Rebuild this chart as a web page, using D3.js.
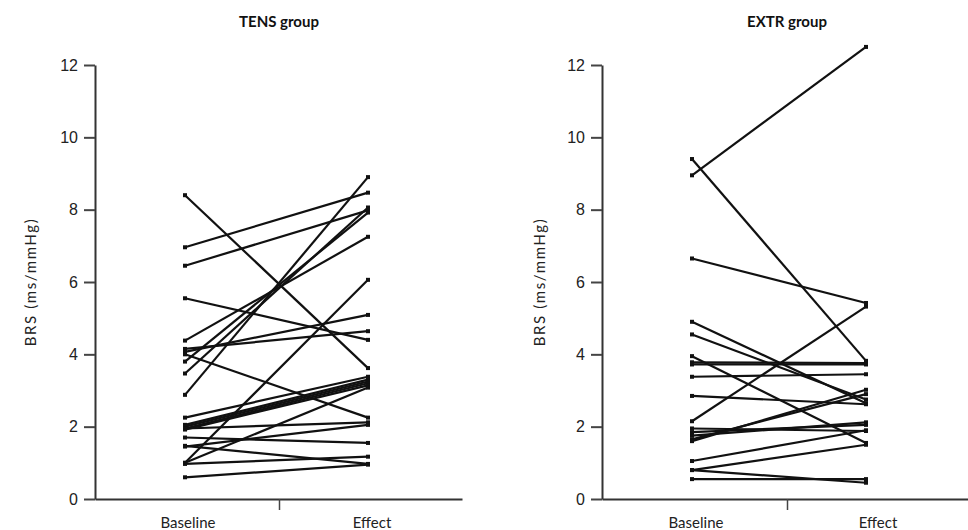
<!DOCTYPE html>
<html>
<head>
<meta charset="utf-8">
<script src="https://cdn.jsdelivr.net/npm/d3@7"></script>
<style>
  body { margin: 0; background: #fff; }
  svg { display: block; font-family: Lato, "Open Sans", sans-serif; }
</style>
</head>
<body>
<svg id="chart" width="968" height="530"></svg>
<script>
// data
var conditions = ["Baseline", "Effect"];
var yTicks = [0, 2, 4, 6, 8, 10, 12];

var tensBaseline = [8.40, 6.96, 6.45, 5.55, 4.38, 4.15, 4.07, 4.00, 3.80, 3.47, 2.88, 2.25,
                    2.05, 2.00, 1.95, 1.92, 1.95, 1.70, 1.47, 1.45, 1.00, 1.00, 0.97, 0.60];
var tensEffect   = [3.62, 8.47, 7.98, 4.40, 7.25, 4.64, 5.09, 2.25, 7.92, 8.06, 8.90, 3.38,
                    3.30, 3.25, 3.20, 3.14, 2.12, 1.55, 0.97, 2.05, 6.06, 3.08, 1.17, 0.95];

var extrBaseline = [8.95, 9.40, 6.65, 4.90, 4.55, 3.95, 3.78, 3.72, 3.38, 2.85,
                    2.15, 1.95, 1.85, 1.75, 1.65, 1.60, 1.05, 0.80, 0.80, 0.55];
var extrEffect   = [12.50, 3.82, 5.42, 2.65, 2.75, 1.55, 3.76, 3.72, 3.45, 2.62,
                    5.32, 1.88, 2.05, 2.12, 2.90, 3.02, 1.90, 1.50, 0.45, 0.55];

var panels = [
  { title: "TENS group", base: tensBaseline, eff: tensEffect,
    axisX: 95, axisEnd: 462, pts: [185, 368], labs: [188, 372], midTick: 279, yLabelX: 31 },
  { title: "EXTR group", base: extrBaseline, eff: extrEffect,
    axisX: 602, axisEnd: 968, pts: [692, 866], labs: [696, 878], midTick: 787, yLabelX: 540 }
];

var svg = d3.select("#chart");

var y = d3.scaleLinear().domain([0, 12]).range([499, 65]);

panels.forEach(function(p) {
  var g = svg.append("g");

  // x positions of the two conditions
  var x = d3.scalePoint().domain(conditions).range(p.pts);
  var xLab = d3.scalePoint().domain(conditions).range(p.labs);

  // y axis
  var yAxis = g.append("g")
    .attr("transform", "translate(" + p.axisX + ",0)")
    .call(d3.axisLeft(y).tickValues(yTicks).tickSize(11).tickSizeOuter(0).tickPadding(6)
      .tickFormat(d3.format("d")));
  yAxis.select(".domain").attr("stroke", "#333").attr("stroke-width", 2);
  yAxis.selectAll(".tick line").attr("stroke", "#444").attr("stroke-width", 2);
  yAxis.selectAll(".tick text")
    .attr("font-size", 16).attr("fill", "#222");

  // x axis: base line with a single tick between the two conditions
  var xs = d3.scaleLinear().domain([0, 1]).range([p.axisX, p.axisEnd]);
  var mid = xs.invert(p.midTick);
  var xAxis = g.append("g")
    .attr("transform", "translate(0," + y(0) + ")")
    .call(d3.axisBottom(xs).tickValues([mid]).tickSize(11).tickSizeOuter(0).tickFormat(""));
  xAxis.select(".domain").attr("stroke", "#333").attr("stroke-width", 2);
  xAxis.selectAll(".tick line").attr("stroke", "#444").attr("stroke-width", 1.5);

  g.selectAll(".cond")
    .data(conditions)
    .enter().append("text")
    .attr("x", function(d) { return xLab(d); })
    .attr("y", 528)
    .attr("text-anchor", "middle")
    .attr("font-size", 15)
    .attr("fill", "#222")
    .text(function(d) { return d; });

  // title
  g.append("text")
    .attr("x", p.midTick)
    .attr("y", 27)
    .attr("text-anchor", "middle")
    .attr("font-size", 15)
    .attr("font-weight", "bold")
    .attr("fill", "#111")
    .text(p.title);

  // y label
  g.append("text")
    .attr("transform", "translate(" + p.yLabelX + "," + y(6) + ") rotate(-90)")
    .attr("text-anchor", "middle")
    .attr("dy", "0.35em")
    .attr("font-size", 15)
    .attr("letter-spacing", 1.6)
    .attr("fill", "#222")
    .text("BRS (ms/mmHg)");

  // subject lines
  var pairs = p.base.map(function(b, i) { return [b, p.eff[i]]; });
  g.selectAll(".subj")
    .data(pairs)
    .enter().append("line")
    .attr("x1", x("Baseline"))
    .attr("x2", x("Effect"))
    .attr("y1", function(d) { return y(d[0]); })
    .attr("y2", function(d) { return y(d[1]); })
    .attr("stroke", "#111")
    .attr("stroke-width", 2.2);

  // end markers
  var pts = [];
  pairs.forEach(function(d) {
    pts.push([x("Baseline"), y(d[0])]);
    pts.push([x("Effect"), y(d[1])]);
  });
  g.selectAll(".mk")
    .data(pts)
    .enter().append("rect")
    .attr("x", function(d) { return d[0] - 2; })
    .attr("y", function(d) { return d[1] - 2; })
    .attr("width", 4)
    .attr("height", 4)
    .attr("fill", "#111");
});
</script>
</body>
</html>
